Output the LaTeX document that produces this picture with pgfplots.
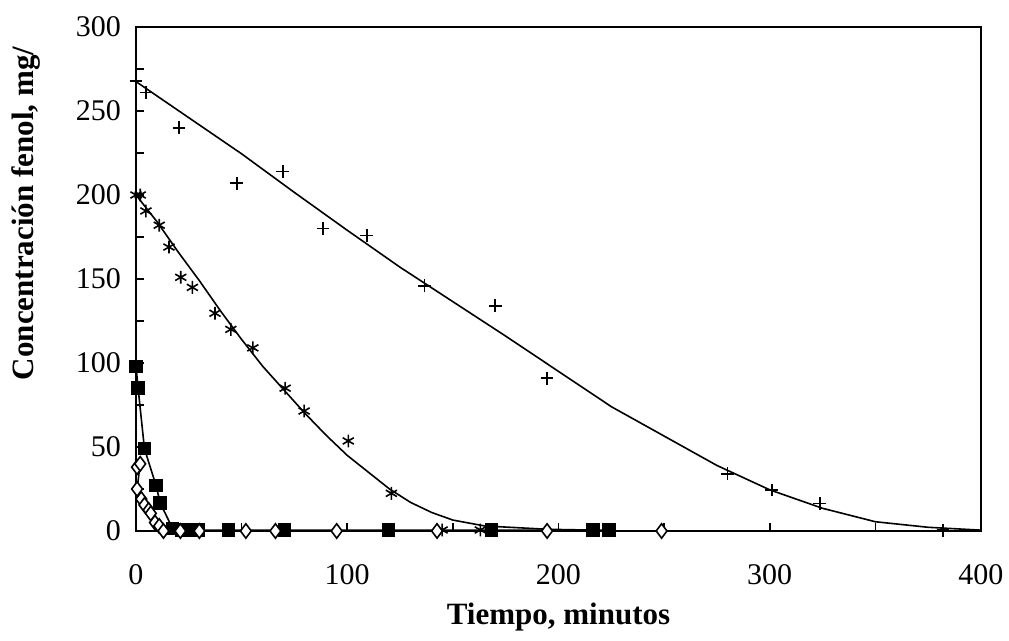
\documentclass[border=0pt]{standalone}
\usepackage{fontspec}
\setmainfont{Liberation Serif}
\usepackage{pgfplots}
\pgfplotsset{compat=1.18}

\begin{document}
\begin{tikzpicture}
\useasboundingbox (-68pt,-55pt) rectangle (436.5pt,265.5pt);
\begin{axis}[
  at={(0,0)}, anchor=south west,
  scale only axis, width=422.5pt, height=252pt,
  xmin=0, xmax=400, ymin=0, ymax=300,
  xtick={0,100,...,400}, minor xtick={50,150,250,350},
  ytick={0,50,...,300}, minor ytick={25,75,...,275},
  tick align=inside, major tick length=4pt, minor tick length=4pt,
  xtick pos=bottom, ytick pos=left,
  axis line style={line width=1pt},
  tick style={line width=0.8pt, black},
  every tick label/.append style={font=\fontsize{15}{17}\selectfont},
  /pgf/number format/assume math mode=true,
  xticklabel style={yshift=-13pt},
  yticklabel style={xshift=-4pt},
  clip=false,
  every axis plot/.append style={black, line width=0.8pt},
]
% + series and its fit
\addplot[only marks, mark=+, mark size=3.2pt] coordinates {
  (0,268) (4.7,261) (20.4,240) (47.7,207) (69.5,214) (88.5,180) (109.3,176)
  (136.5,146) (170,134) (194.6,91) (280,34) (301,24.4) (323.7,16.3) (382,0.5)
};
\addplot[no marks] coordinates {
  (0,267.5) (25,246) (50,224.5) (75,201.5) (100,179) (125,157) (150,136.5)
  (175,116) (200,95) (225,74) (250,56.5) (275,39) (300,24.5) (325,13.5)
  (350,5.5) (375,2.2) (400,0.5)
};
% asterisk series and its fit
\addplot[only marks, mark=asterisk, mark size=3.2pt] coordinates {
  (0,200) (2,200) (4.7,190.5) (11,182) (15.6,169) (21.2,151) (26.7,145)
  (37.4,129.6) (44.9,120) (55.3,109) (70.6,85) (79.6,71.4) (100.5,53.6)
  (120.9,22.4) (144.9,0.6) (163,0.6)
};
\addplot[no marks] coordinates {
  (0,200) (10,184) (20,166) (30,149) (40,131) (50,114) (60,98) (70,84)
  (80,70) (90,57) (100,45) (110,35) (120,25) (130,17) (140,11) (150,6.5)
  (165,3) (195,1) (217,0.5)
};
% filled squares
\addplot[mark=square*, mark size=3pt] coordinates {
  (0,98) (1,85) (4,49) (9.5,27) (11.5,16.5) (17.3,1.6) (21.6,0.5) (24.8,0.5)
  (29.5,0.5) (43.7,0.5) (70.3,0.5) (119.6,0.5) (168.2,0.5) (216.4,0.5) (223.8,0.5)
};
% open diamonds
\addplot[mark=diamond*, mark size=3.6pt, mark options={fill=white}] coordinates {
  (0.5,38) (2,40) (0.5,25) (2.5,19) (4,15.5) (6,12.5) (7,10.5) (9,5) (11,3)
  (13,0) (21,0) (30,0) (52,0) (66,0) (95,0) (142.5,0) (194.6,0) (248.8,0)
};
\node[font=\bfseries\fontsize{15.5}{17}\selectfont] at (rel axis cs:0.5,-0.17) {Tiempo, minutos};
\node[font=\bfseries\fontsize{15.5}{17}\selectfont, rotate=90] at (rel axis cs:-0.13,0.63) {Concentración fenol, mg/};
\end{axis}
\end{tikzpicture}
\end{document}
